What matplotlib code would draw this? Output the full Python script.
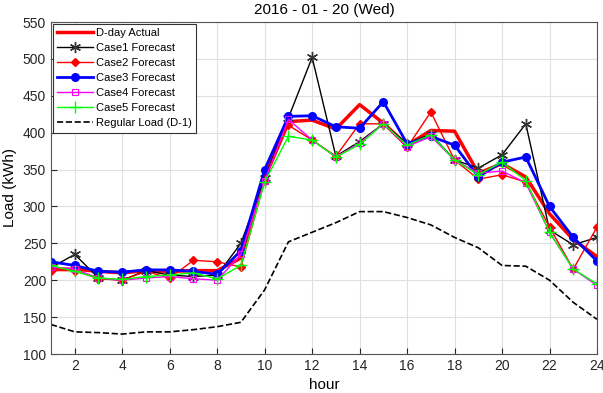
import matplotlib.pyplot as plt
import numpy as np

hours = np.arange(1, 25)
actual = [215, 215, 212, 210, 213, 212, 213, 213, 230, 340, 415, 417, 405, 438, 413, 383, 403, 402, 345, 358, 340, 290, 255, 232]
case1 = [217, 235, 203, 200, 213, 207, 205, 207, 250, 338, 420, 502, 368, 388, 412, 385, 398, 363, 352, 370, 412, 268, 248, 258]
case2 = [213, 213, 202, 200, 212, 203, 227, 225, 218, 335, 410, 390, 368, 412, 412, 380, 428, 363, 337, 343, 333, 272, 215, 272]
case3 = [225, 220, 212, 211, 214, 214, 212, 208, 240, 350, 422, 423, 408, 406, 442, 385, 395, 383, 340, 360, 367, 300, 258, 226]
case4 = [218, 215, 203, 200, 203, 205, 202, 200, 235, 335, 418, 390, 367, 386, 412, 381, 395, 363, 345, 348, 332, 265, 215, 193]
case5 = [220, 212, 203, 201, 205, 207, 210, 202, 220, 333, 395, 390, 367, 384, 412, 383, 397, 363, 343, 360, 335, 265, 215, 195]
regular = [140, 130, 129, 127, 130, 130, 133, 137, 143, 187, 252, 265, 278, 293, 293, 285, 275, 258, 244, 220, 219, 200, 170, 147]

plt.rcParams['font.family'] = ['Liberation Sans', 'DejaVu Sans']
fig = plt.figure(figsize=(6.03, 3.93), dpi=100)
ax = fig.add_axes([51/603, 1-354/393, 546/603, 332/393])

ax.plot(hours, actual, color='red', lw=2.5, label='D-day Actual')
ax.plot(hours, case1, color='black', lw=1, marker=(6, 2, 0), ms=8, mec='#333333', label='Case1 Forecast')
ax.plot(hours, case2, color='red', lw=1, marker='D', ms=4, label='Case2 Forecast')
ax.plot(hours, case3, color='blue', lw=2, marker='o', ms=5.5, label='Case3 Forecast')
ax.plot(hours, case4, color='magenta', lw=1, marker='s', ms=5, mfc='none', mew=0.8, label='Case4 Forecast')
ax.plot(hours, case5, color='lime', lw=1, marker='+', ms=8, label='Case5 Forecast')
ax.plot(hours, regular, color='black', lw=1.2, ls='--', label='Regular Load (D-1)')

ax.set_xlim(1, 24)
ax.set_ylim(100, 550)
ax.set_xticks(range(2, 25, 2))
ax.set_yticks(range(100, 551, 50))
ax.grid(True, color='#e0e0e0', lw=0.8)
ax.tick_params(direction='in', labelsize=10, colors='#262626', length=4)
for s in ax.spines.values():
    s.set_color('#555555')
ax.set_xlabel('hour', fontsize=11)
ax.set_ylabel('Load (kWh)', fontsize=11)
ax.set_title('2016 - 01 - 20 (Wed)', fontsize=11)

leg = ax.legend(loc='upper left', fontsize=8, fancybox=False, framealpha=1,
                edgecolor='#333333', borderaxespad=0.15, handlelength=3.2,
                handletextpad=0.3, labelspacing=0.45)
leg.get_frame().set_linewidth(0.8)

fig.savefig('out.png', dpi=100)
